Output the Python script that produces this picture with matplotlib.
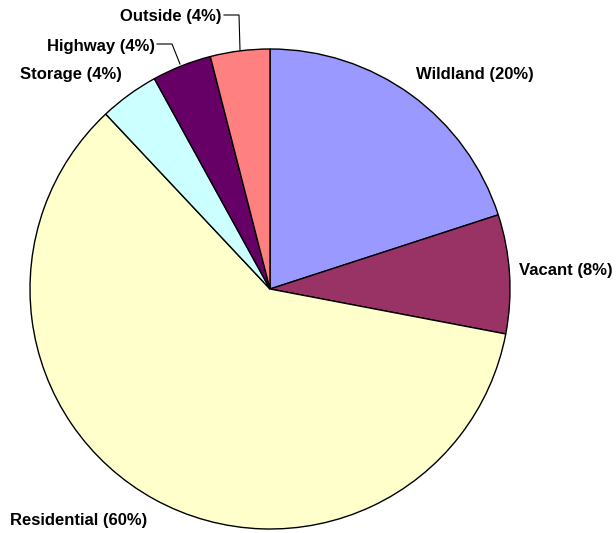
import matplotlib
matplotlib.use("Agg")
import matplotlib.pyplot as plt

categories = ["Wildland", "Vacant", "Residential", "Storage", "Highway", "Outside"]
values = [20, 8, 60, 4, 4, 4]
colors = ["#9999FF", "#993366", "#FFFFCC", "#CCFFFF", "#660066", "#FF8080"]

W, H = 616, 533
fig = plt.figure(figsize=(W / 100, H / 100), dpi=100)
ax = fig.add_axes([0, 0, 1, 1])
ax.set_xlim(0, W)
ax.set_ylim(0, H)
ax.set_aspect("equal")
ax.axis("off")

cx, cy, r = 270, H - 289, 240
ax.pie(values, colors=colors, startangle=90, counterclock=False,
       center=(cx, cy), radius=r, frame=True,
       wedgeprops=dict(edgecolor="black", linewidth=1.0))
ax.set_xlim(0, W)
ax.set_ylim(0, H)
ax.axis("off")

font = dict(family=["Liberation Sans", "DejaVu Sans"], fontsize=12, fontweight="bold", color="black")
labels = [f"{c} ({v}%)" for c, v in zip(categories, values)]
# label positions (pixel coords, y from top)
pos = [(416, 75, "left"), (519, 270, "left"), (10, 521, "left"),
       (20, 74, "left"), (155, 46, "right"), (222, 16, "right")]
for lab, (px, py, ha) in zip(labels, pos):
    ax.text(px, H - py, lab, ha=ha, va="center", **font)

# leader lines
ax.plot([224, 239, 240], [H - 15, H - 15, H - 50], color="black", lw=0.8)
ax.plot([157, 172, 180], [H - 44, H - 44, H - 64], color="black", lw=0.8)

fig.savefig("out.png", dpi=100)
